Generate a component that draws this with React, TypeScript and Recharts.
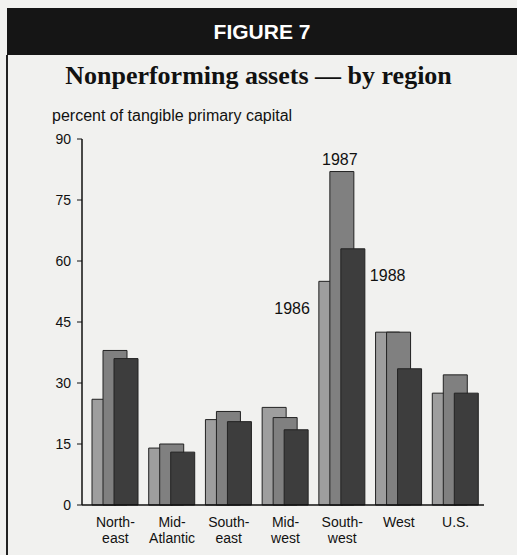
import React from 'react';
import { BarChart, Bar, XAxis, YAxis, LabelList } from 'recharts';

const regions = ['North-|east', 'Mid-|Atlantic', 'South-|east', 'Mid-|west', 'South-|west', 'West', 'U.S.'];
const y1986 = [26, 14, 21, 24, 55, 42.5, 27.5];
const y1987 = [38, 15, 23, 21.5, 82, 42.5, 32];
const y1988 = [36, 13, 20.5, 18.5, 63, 33.5, 27.5];
const yTicks = [0, 15, 30, 45, 60, 75, 90];

const data = regions.map((r, i) => ({ region: r, a: y1986[i], b: y1987[i], c: y1988[i] }));

const FONT = 'Liberation Sans, Arial, sans-serif';

const CatTick = (props: any) => {
  const { x, y, payload } = props;
  const lines = String(payload.value).split('|');
  return (
    <text x={x} y={y} textAnchor="middle" fontFamily={FONT} fontSize={14} fill="#111">
      {lines.map((l: string, i: number) => (
        <tspan key={i} x={x} dy={i === 0 ? 14 : 16}>{l}</tspan>
      ))}
    </text>
  );
};

const mkLabel = (text: string, pos: 'left' | 'top' | 'right') => (props: any) => {
  const { x, y, width, index } = props;
  if (index !== 4) return null;
  let tx = x, ty = y, anchor: any = 'middle';
  if (pos === 'left') { tx = x - 9; ty = y + 33; anchor = 'end'; }
  if (pos === 'top') { tx = x + width / 2 - 2; ty = y - 7; anchor = 'middle'; }
  if (pos === 'right') { tx = x + width + 5; ty = y + 32; anchor = 'start'; }
  return (
    <text x={tx} y={ty} textAnchor={anchor} fontFamily={FONT} fontSize={16} fill="#111">{text}</text>
  );
};

export default function App() {
  return (
    <div style={{ position: 'absolute', left: 0, top: 0, width: 517, height: 555, background: '#f1f1ef', overflow: 'hidden' }}>
      <div style={{ position: 'absolute', left: 7, top: 8, width: 510, height: 47, background: '#151515', color: '#fff', fontFamily: FONT, fontWeight: 900, fontSize: 21, textAlign: 'center', lineHeight: '47px' }}>
        FIGURE 7
      </div>
      <div style={{ position: 'absolute', left: 6, top: 55, width: 2, height: 500, background: '#222' }} />
      <div style={{ position: 'absolute', left: 0, width: 517, top: 61, textAlign: 'center', fontFamily: 'Liberation Serif, Times New Roman, serif', fontWeight: 'bold', fontSize: 26, color: '#111' }}>
        Nonperforming assets — by region
      </div>
      <div style={{ position: 'absolute', left: 52, top: 107, fontFamily: FONT, fontSize: 16, color: '#111' }}>
        percent of tangible primary capital
      </div>
      <div style={{ position: 'absolute', left: 0, top: 0 }}>
        <BarChart
          width={517}
          height={555}
          data={data}
          margin={{ top: 139, right: 33, bottom: 0, left: 0 }}
          barSize={24}
          barGap={-13}
        >
          <XAxis
            dataKey="region"
            axisLine={{ stroke: '#111', strokeWidth: 1.5 }}
            tickLine={false}
            tick={<CatTick />}
            interval={0}
            height={50}
            padding={{ left: 5, right: 0 }}
          />
          <YAxis
            domain={[0, 90]}
            ticks={yTicks}
            interval={0}
            width={82}
            axisLine={{ stroke: '#111', strokeWidth: 1.5 }}
            tickLine={{ stroke: '#111' }}
            tickSize={5}
            tickMargin={6}
            tick={{ fontFamily: FONT, fontSize: 14, fill: '#111' }}
          />
          <Bar dataKey="a" fill="#9e9e9e" stroke="#222" strokeWidth={1} isAnimationActive={false}>
            <LabelList content={mkLabel('1986', 'left')} />
          </Bar>
          <Bar dataKey="b" fill="#808080" stroke="#222" strokeWidth={1} isAnimationActive={false}>
            <LabelList content={mkLabel('1987', 'top')} />
          </Bar>
          <Bar dataKey="c" fill="#3d3d3d" stroke="#222" strokeWidth={1} isAnimationActive={false}>
            <LabelList content={mkLabel('1988', 'right')} />
          </Bar>
        </BarChart>
      </div>
    </div>
  );
}
